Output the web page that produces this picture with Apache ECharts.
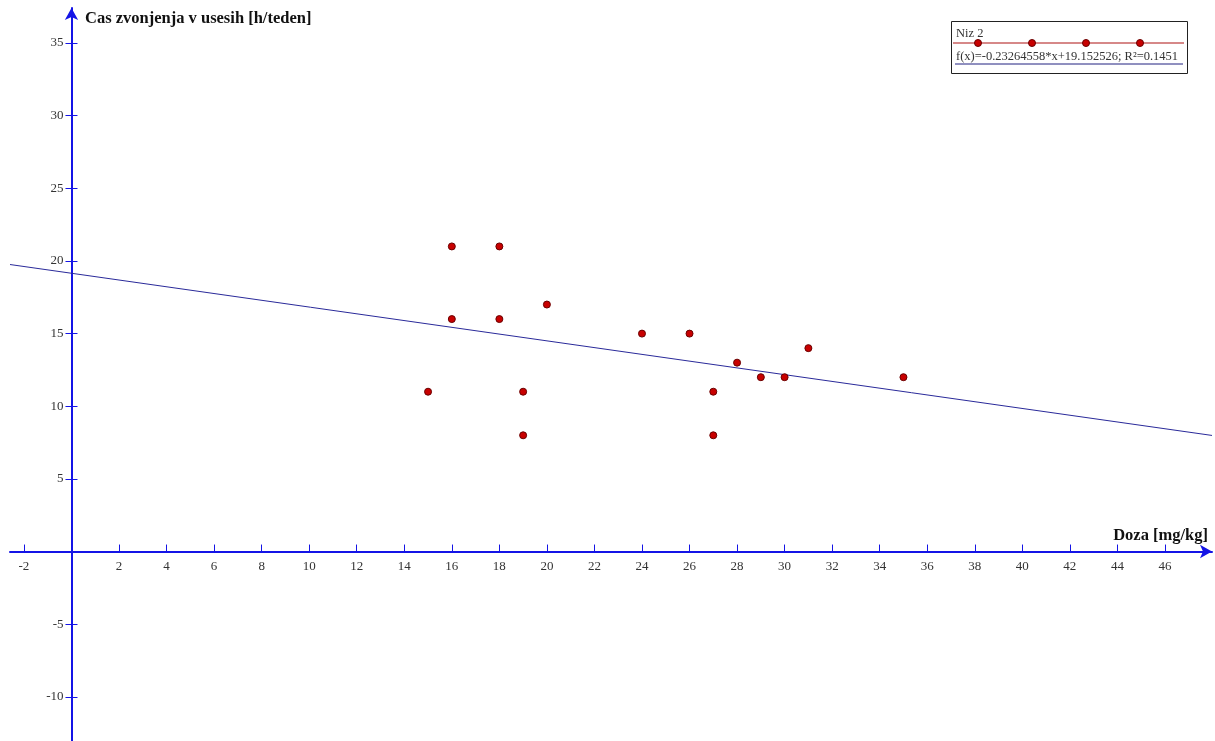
<!DOCTYPE html>
<html>
<head>
<meta charset="utf-8">
<script src="https://cdn.jsdelivr.net/npm/echarts@6/dist/echarts.min.js"></script>
<style>
html,body{margin:0;padding:0;background:#fff;}
#main{width:1215px;height:741px;}
</style>
</head>
<body>
<div id="main"></div>
<script>
// Data
const doseX = [15, 16, 16, 18, 18, 19, 19, 20, 24, 26, 27, 27, 28, 29, 30, 31, 35];
const timeY = [11, 21, 16, 21, 16, 11, 8, 17, 15, 15, 11, 8, 13, 12, 12, 14, 12];
const xTicks = [-2, 2, 4, 6, 8, 10, 12, 14, 16, 18, 20, 22, 24, 26, 28, 30, 32, 34, 36, 38, 40, 42, 44, 46];
const yTicks = [-10, -5, 5, 10, 15, 20, 25, 30, 35];
const fitSlope = -0.23264558;
const fitIntercept = 19.152526;
const seriesName = 'Niz 2';
const fitLabel = 'f(x)=-0.23264558*x+19.152526; R\u00B2=0.1451';
const xAxisName = 'Doza [mg/kg]';
const yAxisName = 'Cas zvonjenja v usesih [h/teden]';

const X_MIN = -2.587, X_MAX = 47.98;
const Y_MIN = -13.04, Y_MAX = 37.41;

const fitData = [[X_MIN, fitSlope * X_MIN + fitIntercept], [X_MAX, fitSlope * X_MAX + fitIntercept]];
const points = doseX.map((x, i) => [x, timeY[i]]);

const AXIS_BLUE = '#1414e6';
const FONT = '"Liberation Serif", "DejaVu Serif", serif';

// pixel position of the origin inside the main grid
const ORIGIN_X = 10 + (0 - X_MIN) / (X_MAX - X_MIN) * (1215 - 10 - 3);
const ORIGIN_Y = 8 + (Y_MAX - 0) / (Y_MAX - Y_MIN) * (741 - 8);

const labelStyle = {color: '#333', fontFamily: FONT, fontSize: 13};

const chart = echarts.init(document.getElementById('main'), null, {renderer: 'canvas'});
chart.setOption({
  animation: false,
  backgroundColor: '#ffffff',
  grid: [
    {left: 10, right: 3, top: 8, bottom: 0, containLabel: false, outerBoundsMode: 'none'},
    {left: 10, right: 3, top: 8, bottom: 741 - ORIGIN_Y, containLabel: false, outerBoundsMode: 'none'},
    {left: ORIGIN_X, right: 3, top: 8, bottom: 0, containLabel: false, outerBoundsMode: 'none'}
  ],
  xAxis: [{
    gridIndex: 0, type: 'value', min: X_MIN, max: X_MAX,
    splitLine: {show: false},
    axisLine: {show: true, onZero: true, lineStyle: {color: AXIS_BLUE, width: 2},
      symbol: ['none', 'arrow'], symbolSize: [10, 12]},
    axisTick: {show: true, inside: true, length: 7, customValues: xTicks,
      lineStyle: {color: AXIS_BLUE, width: 1}},
    axisLabel: {show: false}
  }, {
    gridIndex: 1, type: 'value', min: X_MIN, max: X_MAX, position: 'bottom',
    splitLine: {show: false},
    axisLine: {show: false, onZero: false},
    axisTick: {show: false},
    axisLabel: Object.assign({show: true, customValues: xTicks, margin: 9}, labelStyle)
  }, {
    gridIndex: 2, type: 'value', min: X_MIN, max: X_MAX, show: false
  }],
  yAxis: [{
    gridIndex: 0, type: 'value', min: Y_MIN, max: Y_MAX, position: 'left',
    splitLine: {show: false},
    axisLine: {show: true, onZero: true, lineStyle: {color: AXIS_BLUE, width: 2},
      symbol: ['none', 'arrow'], symbolSize: [10, 12]},
    axisTick: {show: true, inside: false, length: 6, customValues: yTicks,
      lineStyle: {color: AXIS_BLUE, width: 1}},
    axisLabel: {show: false}
  }, {
    gridIndex: 0, type: 'value', min: Y_MIN, max: Y_MAX, position: 'left',
    splitLine: {show: false},
    axisLine: {show: false, onZero: true, onZeroAxisIndex: 0},
    axisTick: {show: true, inside: true, length: 6, customValues: yTicks,
      lineStyle: {color: AXIS_BLUE, width: 1}},
    axisLabel: {show: false}
  }, {
    gridIndex: 1, type: 'value', min: Y_MIN, max: Y_MAX, show: false
  }, {
    gridIndex: 2, type: 'value', min: Y_MIN, max: Y_MAX, position: 'left',
    splitLine: {show: false},
    axisLine: {show: false, onZero: false},
    axisTick: {show: false},
    axisLabel: Object.assign({show: true, customValues: yTicks, margin: 8}, labelStyle)
  }],
  series: [{
    name: 'fit', type: 'line', data: fitData, symbol: 'none', xAxisIndex: 0, yAxisIndex: 0,
    lineStyle: {color: '#2a2a9a', width: 1}, silent: true, z: 3
  }, {
    name: seriesName, type: 'scatter', data: points, symbolSize: 7, xAxisIndex: 0, yAxisIndex: 0,
    itemStyle: {color: '#c80000', borderColor: '#6a0000', borderWidth: 1, opacity: 1},
    z: 4
  }],
  graphic: [
    {type: 'text', left: 85, top: 10, style: {text: yAxisName, font: 'bold 16.5px ' + FONT, fill: '#111'}},
    {type: 'text', right: 7, top: 527, style: {text: xAxisName, font: 'bold 16.5px ' + FONT, fill: '#111'}},
    {type: 'rect', shape: {x: 951.5, y: 21.5, width: 236, height: 52}, style: {fill: '#fff', stroke: '#222', lineWidth: 1}, z: 10},
    {type: 'text', x: 956, y: 27, style: {text: seriesName, font: '12.5px ' + FONT, fill: '#333'}, z: 11},
    {type: 'line', shape: {x1: 953, y1: 43, x2: 1184, y2: 43}, style: {stroke: '#c86060', lineWidth: 1.5}, z: 11},
    {type: 'circle', shape: {cx: 978, cy: 43, r: 3.5}, style: {fill: '#c80000', stroke: '#6a0000', lineWidth: 1}, z: 12},
    {type: 'circle', shape: {cx: 1032, cy: 43, r: 3.5}, style: {fill: '#c80000', stroke: '#6a0000', lineWidth: 1}, z: 12},
    {type: 'circle', shape: {cx: 1086, cy: 43, r: 3.5}, style: {fill: '#c80000', stroke: '#6a0000', lineWidth: 1}, z: 12},
    {type: 'circle', shape: {cx: 1140, cy: 43, r: 3.5}, style: {fill: '#c80000', stroke: '#6a0000', lineWidth: 1}, z: 12},
    {type: 'text', x: 956, y: 50, style: {text: fitLabel, font: '12.5px ' + FONT, fill: '#333'}, z: 11},
    {type: 'line', shape: {x1: 955, y1: 64, x2: 1183, y2: 64}, style: {stroke: '#202080', lineWidth: 1}, z: 11}
  ]
});
</script>
</body>
</html>
